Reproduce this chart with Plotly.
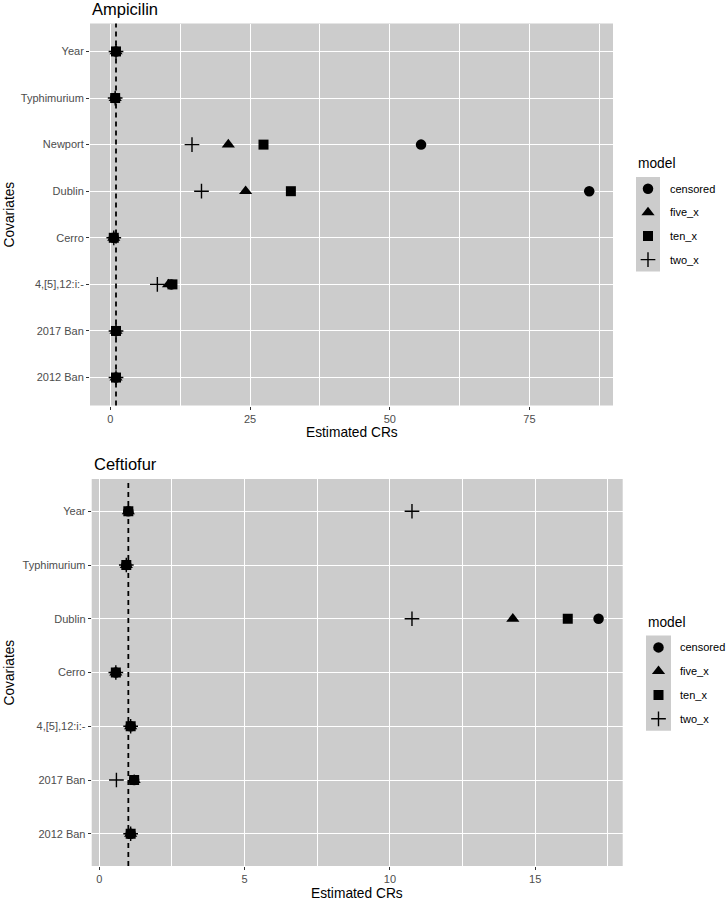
import plotly.graph_objects as go

W, H = 726, 900

# ---------------- data ----------------
models = ["censored", "five_x", "ten_x", "two_x"]

amp_covariates = ["Year", "Typhimurium", "Newport", "Dublin", "Cerro",
                  "4,[5],12:i:-", "2017 Ban", "2012 Ban"]
amp_censored = [1.0, 0.85, 55.6, 85.7, 0.6, 10.9, 1.0, 1.0]
amp_five_x = [1.0, 0.85, 21.1, 24.2, 0.6, 10.4, 1.0, 1.0]
amp_ten_x = [1.0, 0.85, 27.4, 32.3, 0.6, 11.1, 1.0, 1.0]
amp_two_x = [1.0, 0.85, 14.6, 16.3, 0.6, 8.4, 1.0, 1.0]

cef_covariates = ["Year", "Typhimurium", "Dublin", "Cerro",
                  "4,[5],12:i:-", "2017 Ban", "2012 Ban"]
cef_censored = [1.0, 0.93, 17.18, 0.57, 1.08, 1.2, 1.08]
cef_five_x = [1.0, 0.93, 14.23, 0.57, 1.08, 1.2, 1.08]
cef_ten_x = [1.0, 0.93, 16.12, 0.57, 1.08, 1.2, 1.08]
cef_two_x = [10.76, 0.93, 10.76, 0.57, 1.08, 0.59, 1.08]

amp_ticks = [0, 25, 50, 75]
amp_minor = [12.5, 37.5, 62.5, 87.5]
cef_ticks = [0, 5, 10, 15]
cef_minor = [2.5, 7.5, 12.5, 17.5]

ref_line = 1.0

# ---------------- styling ----------------
FONT = "Liberation Sans, Arial, Helvetica, sans-serif"
PANEL = "#CCCCCC"
TICKTXT = "#4D4D4D"
TICKCOL = "#333333"

# panel pixel boxes (left, right, top, bottom)
P1 = (90.0, 613.0, 23.5, 405.5)
P2 = (91.7, 622.7, 479.0, 866.0)


def marker(m):
    if m == "two_x":
        return dict(symbol="cross-thin", size=10.5, color="black",
                    line=dict(color="black", width=1.4))
    sym = {"censored": "circle", "five_x": "triangle-up", "ten_x": "square"}[m]
    sz = {"censored": 10.5, "five_x": 11.5, "ten_x": 10.0}[m]
    return dict(symbol=sym, size=sz, color="black", line=dict(width=0))


def expand(vals):
    lo, hi = min(vals), max(vals)
    d = (hi - lo) * 0.05
    return [lo - d, hi + d]


fig = go.Figure()

amp_series = {"censored": amp_censored, "five_x": amp_five_x,
              "ten_x": amp_ten_x, "two_x": amp_two_x}
cef_series = {"censored": cef_censored, "five_x": cef_five_x,
              "ten_x": cef_ten_x, "two_x": cef_two_x}

for m in models:
    fig.add_trace(go.Scatter(x=amp_series[m], y=amp_covariates, mode="markers",
                             marker=marker(m), xaxis="x", yaxis="y",
                             showlegend=False, name=m, cliponaxis=False))
for m in models:
    fig.add_trace(go.Scatter(x=cef_series[m], y=cef_covariates, mode="markers",
                             marker=marker(m), xaxis="x2", yaxis="y2",
                             showlegend=False, name=m, cliponaxis=False))

amp_all = sum(amp_series.values(), [])
cef_all = sum(cef_series.values(), [])


def xaxis_cfg(box, anchor, rng, ticks, minor):
    return dict(domain=[box[0] / W, box[1] / W], anchor=anchor, range=rng,
                tickmode="array", tickvals=ticks, ticks="outside", ticklen=3,
                tickwidth=1, tickcolor=TICKCOL,
                tickfont=dict(size=11, color=TICKTXT, family=FONT),
                showgrid=True, gridcolor="white", gridwidth=1.2,
                minor=dict(tickmode="array", tickvals=minor, showgrid=True,
                           gridcolor="white", gridwidth=0.6, ticks=""),
                zeroline=False, showline=False, fixedrange=True)


def yaxis_cfg(box, anchor, cats):
    n = len(cats)
    return dict(domain=[1 - box[3] / H, 1 - box[2] / H], anchor=anchor,
                type="category", categoryorder="array",
                categoryarray=list(reversed(cats)), range=[-0.6, n - 0.4],
                ticks="outside", ticklen=3, tickwidth=1, tickcolor=TICKCOL,
                tickfont=dict(size=11, color=TICKTXT, family=FONT),
                showgrid=True, gridcolor="white", gridwidth=1.2,
                zeroline=False, showline=False, fixedrange=True)


layout = dict(
    width=W, height=H, autosize=False,
    margin=dict(l=0, r=0, t=0, b=0),
    paper_bgcolor="white", plot_bgcolor="rgba(0,0,0,0)",
    font=dict(family=FONT, color="black"),
    xaxis=xaxis_cfg(P1, "y", expand(amp_all), amp_ticks, amp_minor),
    yaxis=yaxis_cfg(P1, "x", amp_covariates),
    xaxis2=xaxis_cfg(P2, "y2", expand(cef_all), cef_ticks, cef_minor),
    yaxis2=yaxis_cfg(P2, "x2", cef_covariates),
    xaxis3=dict(domain=[0, 1], range=[0, W], visible=False, anchor="y3",
                fixedrange=True),
    yaxis3=dict(domain=[0, 1], range=[H, 0], visible=False, anchor="x3",
                fixedrange=True),
)
fig.update_layout(**layout)

shapes = []
annotations = []
for xr, yr in (("x", "y"), ("x2", "y2")):
    shapes.append(dict(type="rect", xref=f"{xr} domain", yref=f"{yr} domain",
                       x0=0, x1=1, y0=0, y1=1, fillcolor=PANEL,
                       line=dict(width=0), layer="below"))
    shapes.append(dict(type="line", xref=xr, yref=f"{yr} domain",
                       x0=ref_line, x1=ref_line, y0=0, y1=1,
                       line=dict(color="black", width=1.8, dash="5px,4px"),
                       layer="above"))

# titles and axis titles
for box, title in ((P1, "Ampicilin"), (P2, "Ceftiofur")):
    annotations.append(dict(xref="x3", yref="y3", x=box[0], y=box[2] - 15,
                            text=title, showarrow=False, xanchor="left",
                            yanchor="middle", font=dict(size=16.5, family=FONT)))
    annotations.append(dict(xref="x3", yref="y3", x=(box[0] + box[1]) / 2,
                            y=box[3] + 27, text="Estimated CRs", showarrow=False,
                            xanchor="center", yanchor="middle",
                            font=dict(size=13.75, family=FONT)))
    annotations.append(dict(xref="x3", yref="y3", x=9, y=(box[2] + box[3]) / 2,
                            text="Covariates", showarrow=False, textangle=-90,
                            xanchor="center", yanchor="middle",
                            font=dict(size=13.75, family=FONT)))

# legends: (left of key column, key width, title y, first key top, key height, label x)
legends = [(636.0, 24.0, 163.0, 177.0, 23.6, 668.0),
           (646.0, 25.0, 622.0, 635.5, 23.8, 678.0)]
for lx, kw, ty, ktop, kh, tx in legends:
    annotations.append(dict(xref="x3", yref="y3", x=lx, y=ty, text="model",
                            showarrow=False, xanchor="left", yanchor="middle",
                            font=dict(size=13.75, family=FONT)))
    shapes.append(dict(type="rect", xref="x3", yref="y3", x0=lx, x1=lx + kw,
                       y0=ktop, y1=ktop + kh * len(models), fillcolor=PANEL,
                       line=dict(width=0), layer="below"))
    for i, m in enumerate(models):
        cy = ktop + kh * (i + 0.5)
        fig.add_trace(go.Scatter(x=[lx + kw / 2], y=[cy], mode="markers",
                                 marker=marker(m), xaxis="x3", yaxis="y3",
                                 showlegend=False, hoverinfo="skip",
                                 cliponaxis=False))
        annotations.append(dict(xref="x3", yref="y3", x=tx, y=cy, text=m,
                                showarrow=False, xanchor="left",
                                yanchor="middle",
                                font=dict(size=11, family=FONT)))

fig.update_layout(shapes=shapes, annotations=annotations)
fig.write_html("out.html")
